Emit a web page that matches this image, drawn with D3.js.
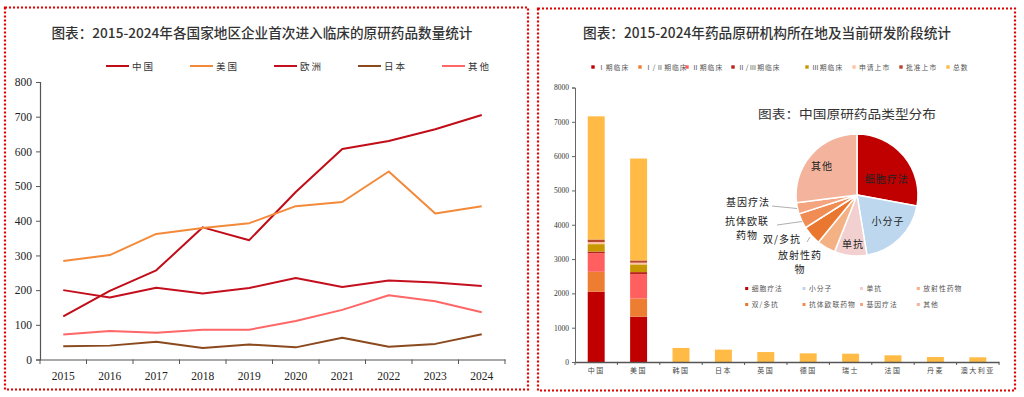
<!DOCTYPE html>
<html><head><meta charset="utf-8">
<script src="https://cdn.jsdelivr.net/npm/d3@7"></script>
<style>
html,body{margin:0;padding:0;background:#fff;}
svg{display:block;}
</style>
</head><body>
<svg id="c" width="1024" height="397"></svg>
<script>
// ---------- Left chart data ----------
const years = ["2015","2016","2017","2018","2019","2020","2021","2022","2023","2024"];
const seriesNames = ["中国","美国","欧洲","日本","其他"];
const chinaVals  = [124, 198, 257, 381, 344, 483, 607, 630, 664, 705];
const usaVals    = [284, 301, 362, 379, 393, 442, 454, 542, 421, 442];
const europeVals = [200, 179, 207, 190, 206, 235, 209, 228, 222, 212];
const japanVals  = [38, 40, 51, 33, 43, 35, 63, 37, 45, 73];
const otherVals  = [72, 82, 77, 86, 86, 111, 143, 185, 168, 136];
const leftTicks = [0,100,200,300,400,500,600,700,800];

// ---------- Right chart data ----------
const countries = ["中国","美国","韩国","日本","英国","德国","瑞士","法国","丹麦","澳大利亚"];
const stageNames = ["Ⅰ期临床","Ⅰ/Ⅱ期临床","Ⅱ期临床","Ⅱ/Ⅲ期临床","Ⅲ期临床","申请上市","批准上市","总数"];
const phase1   = [2050, 1320, 0,0,0,0,0,0,0,0];
const phase12  = [580, 530, 0,0,0,0,0,0,0,0];
const phase2   = [540, 710, 0,0,0,0,0,0,0,0];
const phase23  = [50, 60, 0,0,0,0,0,0,0,0];
const phase3   = [215, 225, 0,0,0,0,0,0,0,0];
const filing   = [60, 50, 0,0,0,0,0,0,0,0];
const approved = [75, 65, 0,0,0,0,0,0,0,0];
const totals   = [3590, 2970, 410, 360, 290, 252, 242, 195, 146, 137];
const rightTicks = [0,1000,2000,3000,4000,5000,6000,7000,8000];

// ---------- Pie data ----------
const pieNames  = ["细胞疗法","小分子","单抗","放射性药物","双/多抗","抗体偶联药物","基因疗法","其他"];
const pieValues = [27.9, 19.5, 8.6, 4.9, 5.1, 4.0, 3.0, 27.0];

const CJK = "'Noto Sans CJK SC', 'Noto Sans', sans-serif";
const SERIF = "'Liberation Serif', 'DejaVu Serif', serif";
const svg = d3.select("#c");

// frames
svg.append("rect").attr("x",5).attr("y",7.5).attr("width",523).attr("height",382)
  .attr("fill","none").attr("stroke","#e00000").attr("stroke-width",2.2).attr("stroke-dasharray","2,2");
svg.append("rect").attr("x",538).attr("y",8.5).attr("width",477).attr("height",382)
  .attr("fill","none").attr("stroke","#e00000").attr("stroke-width",2.2).attr("stroke-dasharray","2,2");

// ================= LEFT CHART =================
svg.append("text").attr("x",262).attr("y",38).attr("text-anchor","middle")
  .attr("font-family",CJK).attr("font-size",13.5).attr("font-weight",500).attr("fill","#333")
  .attr("textLength",421).attr("lengthAdjust","spacingAndGlyphs")
  .text("图表：2015-2024年各国家地区企业首次进入临床的原研药品数量统计");

const lcolors = ["#c00d18","#f28a3a","#c40f1e","#8b4a1e","#ff6767"];
const lseries = [chinaVals, usaVals, europeVals, japanVals, otherVals];

const xL = d3.scaleBand().domain(years).range([40,505]).padding(0);
const yL = d3.scaleLinear().domain([0,800]).range([359.5,82]);

const gyL = svg.append("g").attr("transform","translate(40,0)")
  .call(d3.axisLeft(yL).tickValues(leftTicks).tickSize(4).tickFormat(d3.format("d")));
gyL.select(".domain").attr("stroke","#555").attr("stroke-width",1.2);
gyL.selectAll(".tick line").attr("stroke","#555");
gyL.selectAll("text").attr("font-family",SERIF).attr("font-size",11.5).attr("fill","#222").attr("dx",-1);

const gxL = svg.append("g").attr("transform","translate(0,359.5)")
  .call(d3.axisBottom(xL).tickSize(0).tickPadding(12));
gxL.select(".domain").attr("stroke","#555").attr("stroke-width",1.2);
gxL.selectAll("text").attr("font-family",SERIF).attr("font-size",11.5).attr("fill","#222");
const lb = years.map(d=>xL(d)).concat([xL.range()[1]]);
svg.append("g").selectAll("line").data(lb).join("line")
  .attr("x1",d=>d).attr("x2",d=>d).attr("y1",359.5).attr("y2",364).attr("stroke","#555");

const line = d3.line().x((d,i)=>xL(years[i])+xL.bandwidth()/2).y(d=>yL(d));
lseries.forEach((s,i)=>{
  svg.append("path").datum(s).attr("d",line).attr("fill","none")
    .attr("stroke",lcolors[i]).attr("stroke-width",2).attr("stroke-linejoin","round");
});

const lLeg = svg.append("g");
seriesNames.forEach((n,i)=>{
  const x0 = 106 + i*84;
  lLeg.append("line").attr("x1",x0).attr("x2",x0+23).attr("y1",66).attr("y2",66)
    .attr("stroke",lcolors[i]).attr("stroke-width",2);
  lLeg.append("text").attr("x",x0+26).attr("y",69.5).attr("font-family",CJK).attr("font-size",9.5)
    .attr("letter-spacing",2).attr("fill","#333").text(n);
});

// ================= RIGHT CHART =================
svg.append("text").attr("x",767).attr("y",38).attr("text-anchor","middle")
  .attr("font-family",CJK).attr("font-size",14).attr("font-weight",500).attr("fill","#333")
  .attr("textLength",368).attr("lengthAdjust","spacingAndGlyphs")
  .text("图表：2015-2024年药品原研机构所在地及当前研发阶段统计");

const scolors = ["#c00000","#ed7d31","#ff5f5f","#b8231a","#c99800","#ffc4a6","#b5472a","#ffbb45"];
const stageArrays = [phase1,phase12,phase2,phase23,phase3,filing,approved,totals];
const table = countries.map((c,i)=>{
  const o = {country:c};
  stageNames.forEach((s,k)=>o[s]=stageArrays[k][i]);
  return o;
});
const stacked = d3.stack().keys(stageNames)(table);

const xR = d3.scaleBand().domain(countries).range([575,999]).paddingInner(0.6).paddingOuter(0.3);
const xRb = d3.scaleBand().domain(countries).range([575,999]).padding(0);
const yR = d3.scaleLinear().domain([0,8000]).range([362,87.5]);

stacked.forEach((layer,k)=>{
  svg.append("g").selectAll("rect").data(layer).join("rect")
    .attr("x",d=>xR(d.data.country)).attr("width",xR.bandwidth())
    .attr("y",d=>yR(d[1])).attr("height",d=>Math.max(0,yR(d[0])-yR(d[1])))
    .attr("fill",scolors[k]);
});

const gyR = svg.append("g").attr("transform","translate(575,0)")
  .call(d3.axisLeft(yR).tickValues(rightTicks).tickSize(3).tickFormat(d3.format("d")));
gyR.select(".domain").attr("stroke","#666").attr("stroke-width",1);
gyR.selectAll(".tick line").attr("stroke","#666");
gyR.selectAll("text").attr("font-family",SERIF).attr("font-size",7.5).attr("fill","#333");

const gxR = svg.append("g").attr("transform","translate(0,362)")
  .call(d3.axisBottom(xRb).tickSize(0).tickPadding(6));
gxR.select(".domain").attr("stroke","#555").attr("stroke-width",1.3);
gxR.selectAll("text").attr("font-family",CJK).attr("font-size",7).attr("fill","#444").attr("letter-spacing",1.5);
const rb = countries.map(d=>xRb(d)).concat([xRb.range()[1]]);
svg.append("g").selectAll("line").data(rb).join("line")
  .attr("x1",d=>d).attr("x2",d=>d).attr("y1",362).attr("y2",365).attr("stroke","#555");

const rLegX = [593,640,687,733,807,854,901,948];
const rLeg = svg.append("g");
stageNames.forEach((n,i)=>{
  rLeg.append("rect").attr("x",rLegX[i]-1.7).attr("y",65.3).attr("width",3.4).attr("height",3.4).attr("fill",scolors[i]);
  rLeg.append("text").attr("x",rLegX[i]+5).attr("y",69.5).attr("font-family",CJK).attr("font-size",6.8)
    .attr("letter-spacing",1).attr("fill","#555").text(n);
});

// ================= PIE =================
svg.append("text").attr("x",847).attr("y",119).attr("text-anchor","middle")
  .attr("font-family",CJK).attr("font-size",12.5).attr("fill","#333")
  .attr("textLength",178).attr("lengthAdjust","spacingAndGlyphs")
  .text("图表：中国原研药品类型分布");

const pcolors = ["#c00000","#bdd7ee","#f2d0cf","#f4b183","#e9772f","#ef8d55","#f4a47e","#f3b39c"];
const cx = 857, cy = 195, R = 61;
const pie = d3.pie().sort(null).value(d=>d)(pieValues);
const arc = d3.arc().innerRadius(0).outerRadius(R);
const pg = svg.append("g").attr("transform",`translate(${cx},${cy})`);
pg.selectAll("path").data(pie).join("path").attr("d",arc)
  .attr("fill",(d,i)=>pcolors[i]).attr("stroke","#fff").attr("stroke-width",1.5);

const inLab = [[0,[886.7,183]],[1,[888,225]],[2,[853,247.5]],[7,[822,170]]];
inLab.forEach(([i,p])=>{
  svg.append("text").attr("x",p[0]).attr("y",p[1]).attr("text-anchor","middle")
    .attr("font-family",CJK).attr("font-size",10).attr("letter-spacing",1).attr("fill","#222").text(pieNames[i]);
});
const outLab = [
  {lines:["基因疗法"], x:748, y:206, l:[[772,206],[797,208.5]]},
  {lines:["抗体欧联","药物"], x:747, y:225, l:[[777,225],[802,221.5]]},
  {lines:["双/多抗"], x:782, y:243, l:[[807,242],[810,237]]},
  {lines:["放射性药","物"], x:800, y:259, l:null}
];
outLab.forEach(o=>{
  o.lines.forEach((t,j)=>{
    svg.append("text").attr("x",o.x).attr("y",o.y+j*14).attr("text-anchor","middle")
      .attr("font-family",CJK).attr("font-size",10).attr("letter-spacing",1).attr("fill","#222").text(t);
  });
  if(o.l) svg.append("polyline").attr("points",o.l.map(p=>p.join(",")).join(" "))
    .attr("fill","none").attr("stroke","#999").attr("stroke-width",0.8);
});

const pLegX = [746.7,804,861.5,918.3];
const pLeg = svg.append("g");
pieNames.forEach((n,i)=>{
  const x = pLegX[i%4], y = i<4 ? 288.5 : 304.5;
  pLeg.append("rect").attr("x",x-1.5).attr("y",y-1.5).attr("width",3).attr("height",3).attr("fill",pcolors[i]);
  pLeg.append("text").attr("x",x+5).attr("y",y+2.5).attr("font-family",CJK).attr("font-size",6.8)
    .attr("letter-spacing",1).attr("fill","#555").text(n==="抗体偶联药物"?"抗体欧联药物":n);
});
</script>
</body></html>
